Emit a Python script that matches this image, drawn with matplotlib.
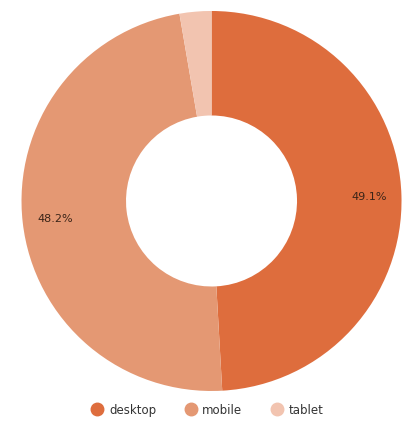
import matplotlib
matplotlib.use("Agg")
import matplotlib.pyplot as plt
from matplotlib.lines import Line2D

labels = ["desktop", "mobile", "tablet"]
values = [49.1, 48.2, 2.7]
colors = ["#de6d3d", "#e49873", "#f2c4b0"]

fig = plt.figure(figsize=(4.16, 4.21), dpi=100)
ax = fig.add_axes([0.0517, 0.0713, 0.9135, 0.9026])
wedges, texts, autotexts = ax.pie(
    values, colors=colors, startangle=90, counterclock=False,
    autopct=lambda p: f"{p:.1f}%" if p >= 5 else "", pctdistance=0.83,
    wedgeprops=dict(width=0.55, linewidth=0),
    textprops=dict(fontsize=8, color="#3a2418"),
)
ax.set_xlim(-1, 1)
ax.set_ylim(-1, 1)
ax.set_aspect("auto")
ax.axis("off")

handles = [Line2D([0], [0], marker="o", linestyle="none", markersize=9,
                  markerfacecolor=c, markeredgecolor=c) for c in colors]
fig.legend(handles, labels, loc="center", bbox_to_anchor=(0.5, 0.026),
           ncol=3, frameon=False, fontsize=8.5, handlelength=0.8,
           handletextpad=0.6, columnspacing=2.5, labelcolor="#333333")
fig.savefig("out.png", dpi=100)
